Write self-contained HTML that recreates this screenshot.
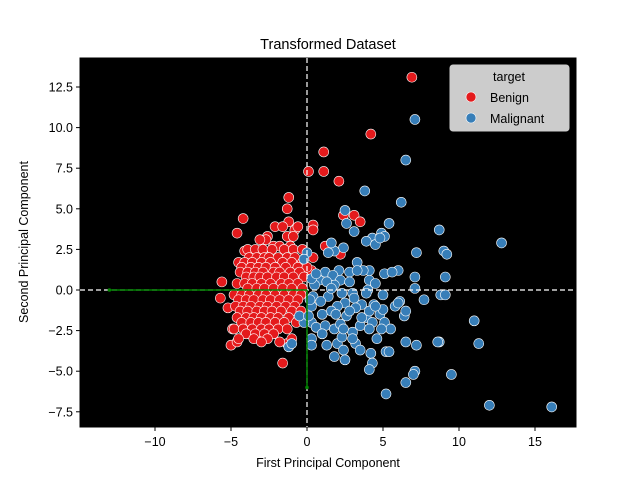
<!DOCTYPE html>
<html><head><meta charset="utf-8"><style>
body{margin:0;background:#fff;}
svg text{font-family:"Liberation Sans",sans-serif;}
</style></head><body>
<svg id="chart" width="640" height="480" xmlns="http://www.w3.org/2000/svg">
<rect width="640" height="480" fill="#fff"/>
<text x="328" y="49" font-size="14.5" text-anchor="middle">Transformed Dataset</text>
<rect x="80" y="58" width="496" height="369" fill="#000"/>
<g id="axes"></g>
<g id="marks"></g>
<text x="328" y="467" font-size="12.5" text-anchor="middle">First Principal Component</text>
<text transform="translate(28,242) rotate(-90)" font-size="12.5" text-anchor="middle">Second Principal Component</text>
<g>
<rect x="450" y="65" width="119" height="66" rx="3" fill="#fff" fill-opacity="0.8" stroke="#ccc"/>
<text x="509" y="81" font-size="12.5" text-anchor="middle">target</text>
<circle cx="471" cy="97" r="5" fill="#e41a1c" stroke="#fff" stroke-width="0.6"/>
<text x="490" y="102" font-size="12.5">Benign</text>
<circle cx="471" cy="118" r="5" fill="#377eb8" stroke="#fff" stroke-width="0.6"/>
<text x="490" y="123" font-size="12.5">Malignant</text>
</g>
</svg>
<script>
const xTicks=[-10,-5,0,5,10,15];
const yTicks=[-7.5,-5,-2.5,0,2.5,5,7.5,10,12.5];
const yTickLabels=["−7.5","−5.0","−2.5","0.0","2.5","5.0","7.5","10.0","12.5"];
const xTickLabels=["−10","−5","0","5","10","15"];
const benignX=[6.9,4.2,1.1,1.1,0.1,2.1,0.4,0.4,2.4,3.1,3.5,1.2,2.2,0.3,-0.8,-1.2,-1.3,-1.2,-4.2,-4.6,-4.1,-5.6,-5.7,-5.2,-4.9,-5.0,-4.6,-1.6,-1.3,
-2.1,-1.6,-0.6,-2.6,-1.3,-0.9,-2.7,-3.1,-2.2,-1.8,-1.1,-3.9,-3.4,-2.9,-2.3,-1.5,-0.9,-0.3,-3.8,-3.3,-2.8,-2.5,-1.9,-1.3,-0.8,0.4,
-4.5,-4.1,-3.6,-3.0,-2.4,-1.6,-1.0,-0.3,-4.3,-3.7,-3.2,-2.7,-2.1,-1.4,-0.6,0.0,-4.4,-3.9,-3.4,-2.9,-2.2,-1.8,-1.1,-0.5,
-4.0,-3.5,-3.1,-2.6,-2.0,-1.5,-0.9,-0.2,-4.6,-4.1,-3.6,-3.0,-2.4,-1.7,-1.2,-0.6,-3.9,-3.3,-2.8,-2.2,-1.6,-1.0,-0.3,
-4.8,-4.3,-3.8,-3.2,-2.7,-2.1,-1.5,-0.9,-0.4,-4.5,-4.0,-3.5,-2.9,-2.4,-1.8,-1.2,-0.6,-4.7,-4.2,-3.7,-3.1,-2.6,-2.0,-1.4,-0.8,
-4.4,-3.9,-3.3,-2.8,-2.3,-1.7,-1.0,-0.4,-4.6,-4.0,-3.5,-3.0,-2.4,-1.9,-1.2,-4.3,-3.7,-3.2,-2.7,-2.1,-1.5,-0.7,
-4.8,-4.2,-3.6,-3.0,-2.5,-1.9,-1.3,-4.0,-3.4,-2.8,-2.2,-4.5,-3.5,-2.6,-1.0,-3.0,-1.8];
const benignY=[13.1,9.6,8.5,7.3,7.3,6.7,4.0,3.7,4.6,4.6,4.2,2.7,2.2,1.2,3.7,5.7,5.0,4.2,4.4,3.5,2.4,0.5,-0.5,-1.1,-2.4,-3.4,-3.2,-4.5,-3.3,
3.9,3.9,3.9,3.3,3.3,3.3,3.1,3.1,2.7,2.7,2.7,2.5,2.5,2.5,2.5,2.5,2.5,2.5,2.0,2.0,2.0,2.0,2.0,2.0,2.0,2.0,
1.7,1.7,1.7,1.7,1.7,1.7,1.7,1.7,1.4,1.4,1.4,1.4,1.4,1.4,1.4,1.4,1.1,1.1,1.1,1.1,1.1,1.1,1.1,1.1,
0.8,0.8,0.8,0.8,0.8,0.8,0.8,0.8,0.4,0.4,0.4,0.4,0.4,0.4,0.4,0.4,0.1,0.1,0.1,0.1,0.1,0.1,0.1,
-0.3,-0.3,-0.3,-0.3,-0.3,-0.3,-0.3,-0.3,-0.3,-0.6,-0.6,-0.6,-0.6,-0.6,-0.6,-0.6,-0.6,-1.0,-1.0,-1.0,-1.0,-1.0,-1.0,-1.0,-1.0,
-1.3,-1.3,-1.3,-1.3,-1.3,-1.3,-1.3,-1.3,-1.7,-1.7,-1.7,-1.7,-1.7,-1.7,-1.7,-2.0,-2.0,-2.0,-2.0,-2.0,-2.0,-2.0,
-2.4,-2.4,-2.4,-2.4,-2.4,-2.4,-2.4,-2.7,-2.7,-2.7,-2.7,-3.0,-3.0,-3.0,-3.0,-3.2,-3.2];
const malignantX=[7.1,6.5,3.8,6.2,2.5,2.6,5.4,8.7,12.8,9.0,9.2,7.2,4.3,4.9,5.1,3.9,3.1,2.4,1.8,1.6,1.4,4.5,4.8,3.3,6.0,5.1,5.6,4.1,3.7,4.1,4.5,2.8,2.1,1.2,1.7,2.2,1.8,0.8,0.5,0.3,1.3,2.3,3.0,4.0,7.1,7.1,9.1,8.8,9.1,7.7,6.1,5.8,5.0,4.4,3.6,3.1,2.5,2.0,1.6,1.0,0.3,0.4,0.3,0.6,1.2,1.8,2.2,2.6,3.0,3.5,3.9,4.3,4.8,5.1,5.5,6.4,6.5,5.0,4.1,3.2,2.8,0.3,0.3,1.3,2.0,2.4,3.2,3.5,4.2,4.3,4.1,5.2,5.4,6.5,7.2,7.1,7.0,6.5,5.2,9.5,8.7,11.0,11.3,12.0,16.1,1.8,2.5,-1.2,-1.0,-0.2,-0.5,0.1,1.4,0.0,-0.2,0.6,2.3,3.0,1.0,4.5,4.9,3.9,4.1,1.6,2.8,3.3,6.0,8.6,0.2,0.9,1.9,2.4,3.6,4.6];
const malignantY=[10.5,8.0,6.1,5.4,4.9,4.1,4.1,3.7,2.9,2.4,2.2,2.3,3.2,3.5,3.3,3.0,3.6,2.6,2.4,2.9,2.3,2.8,3.2,1.7,1.2,1.0,1.1,1.2,1.2,0.6,0.4,1.1,1.2,1.1,0.9,0.6,0.3,0.6,0.3,0.7,0.5,-0.2,-0.2,0.0,0.8,0.1,0.8,-0.3,-0.3,-0.6,-0.7,-1.0,-0.3,-0.9,-0.9,-0.5,-0.8,-1.0,-1.3,-1.5,-1.0,-0.4,-2.0,-2.3,-2.2,-2.4,-2.1,-1.6,-2.6,-2.2,-1.7,-2.0,-1.5,-2.0,-2.4,-1.6,-1.3,-1.2,-1.3,-1.1,-1.3,-3.0,-3.4,-3.4,-3.3,-3.7,-3.3,-3.7,-3.9,-4.5,-4.9,-3.8,-3.8,-3.2,-3.4,-5.0,-5.2,-5.7,-6.4,-5.2,-3.2,-1.9,-3.3,-7.1,-7.2,-4.1,-4.3,-3.5,-3.3,-2.0,-1.6,-1.6,-0.4,2.3,1.9,1.0,-2.9,-3.0,-2.7,-1.0,-2.4,-0.2,-2.4,0.1,0.5,1.2,-0.8,-3.2,-0.6,-0.7,-1.5,-2.4,-1.7,-3.0];
const loadingX=[-13,0];
const loadingY=[0,-6];

const NS="http://www.w3.org/2000/svg";
const xS=v=>307+v*15.2;
const yS=v=>290-v*16.24;
const axes=document.getElementById('axes');
const marks=document.getElementById('marks');
function mk(tag,attrs,parent){const e=document.createElementNS(NS,tag);for(const k in attrs)e.setAttribute(k,attrs[k]);parent.appendChild(e);return e;}
xTicks.forEach((t,i)=>{
  const l=mk('line',{x1:xS(t),x2:xS(t),y1:427,y2:431,stroke:'#000'},axes);
  
  
  const tx=mk('text',{x:xS(t),y:446,'font-size':'12.5','text-anchor':'middle'},axes);tx.textContent=xTickLabels[i];
  
  
});
yTicks.forEach((t,i)=>{
  const l=mk('line',{x1:76,x2:80,y1:yS(t),y2:yS(t),stroke:'#000'},axes);
  
  
  const tx=mk('text',{x:73,y:yS(t)+4.5,'font-size':'12.5','text-anchor':'end'},axes);tx.textContent=yTickLabels[i];
  
  
});
const frame=mk('rect',{x:80,y:58,width:496,height:369,fill:'none',stroke:'#000'},axes);


benignX.forEach((x,i)=>{
  const c=mk('circle',{cx:xS(x),cy:yS(benignY[i]),r:5,fill:'#e41a1c',stroke:'#fff','stroke-width':0.6},marks);
  
  
});
malignantX.forEach((x,i)=>{
  const c=mk('circle',{cx:xS(x),cy:yS(malignantY[i]),r:5,fill:'#377eb8',stroke:'#fff','stroke-width':0.6},marks);
  
  
});
const hz=mk('line',{x1:80,x2:576,y1:yS(0),y2:yS(0),stroke:'#fff','stroke-dasharray':'5,3','stroke-width':1.2},marks);


const vz=mk('line',{x1:xS(0),x2:xS(0),y1:58,y2:427,stroke:'#fff','stroke-dasharray':'5,3','stroke-width':1.2},marks);


loadingX.forEach((x,i)=>{
  const a=mk('line',{x1:xS(0),y1:yS(0),x2:xS(x),y2:yS(loadingY[i]),stroke:'#008000','stroke-width':1.5},marks);
  
  
  const h=mk('circle',{cx:xS(x),cy:yS(loadingY[i]),r:1.8,fill:'#008000'},marks);
  
  
});
</script>
</body></html>
